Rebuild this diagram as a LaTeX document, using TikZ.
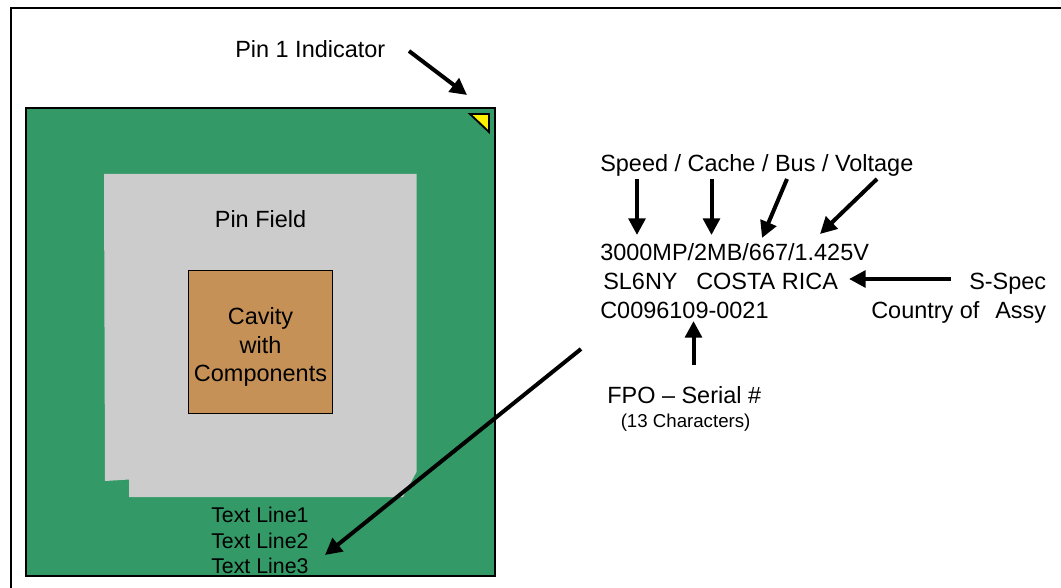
\documentclass[tikz,border=0pt]{standalone}
\usepackage{fontspec}
\setmainfont{Liberation Sans}
\usetikzlibrary{arrows.meta}
\definecolor{board}{HTML}{339966}
\definecolor{pinfield}{HTML}{CCCCCC}
\definecolor{cavity}{HTML}{C69157}
\tikzset{
  x=0.75pt,y=-0.75pt,
  lbl/.style={inner sep=0pt,anchor=base west,font=\fontsize{17.6}{18}\selectfont,text=black},
  small/.style={inner sep=0pt,anchor=base west,font=\fontsize{14}{14}\selectfont,text=black},
  board text/.style={inner sep=0pt,anchor=base west,font=\fontsize{16}{16}\selectfont,text=black},
  callout/.style={draw=black,line width=3pt,-{Triangle[length=12.5pt,width=12.5pt]}},
  frame/.style={draw=black,line width=1.5pt},
}
\begin{document}
\begin{tikzpicture}
\useasboundingbox (0,0) rectangle (1061,588);
\fill[white] (0,0) rectangle (1061,588);
\coordinate (fa) at (11,588);
\coordinate (fb) at (11,8);
\coordinate (fc) at (1061,8);
\draw[frame] (fa) -- (fb) -- (fc);
\draw[draw=black,line width=1.8pt,fill=board] (26,108) rectangle (495,576);
\fill[pinfield] (104,174) -- (416.5,174) -- (416.5,472) -- (403,497) -- (129,497) -- (129,479.5) -- (105,481) -- cycle;
\node[draw=black,line width=0.8pt,fill=cavity,minimum width=108pt,minimum height=107.3pt,inner sep=0pt,anchor=north west] (cav) at (188.3,270) {};
\fill[yellow,draw=black,line width=1.4pt] (470,114) -- (489,114) -- (489,132) -- cycle;
\node[lbl] (pin1) at (235,58) {Pin 1 Indicator};
\node[lbl,anchor=base] (pf) at (260.5,227.5) {Pin Field};
\node[lbl,anchor=base] (c1) at (260.5,324.5) {Cavity};
\node[lbl,anchor=base] (c2) at (260.5,353.5) {with};
\node[lbl,anchor=base] (c3) at (260.5,381.5) {Components};
\node[board text] (t1) at (211,522) {Text Line1};
\node[board text] (t2) at (211,548) {Text Line2};
\node[board text] (t3) at (211,573) {Text Line3};
\node[lbl] (head) at (600,172) {Speed / Cache / Bus / Voltage};
\node[lbl] (l1) at (600,261) {3000MP/2MB/667/1.425V};
\node[lbl] (l2) at (603,290) {SL6NY};
\node[lbl] (l2b) at (696,290) {COSTA RICA};
\node[lbl] (l3) at (600,318) {C0096109-0021};
\node[lbl] (ss) at (969,290) {S-Spec};
\node[lbl] (ca) at (871,318) {Country of};
\node[lbl] (as) at (995,318) {Assy};
\node[lbl] (fpo) at (607,403) {FPO – Serial \#};
\node[small] (ch) at (620.5,427) {(13 Characters)};
\coordinate (a1s) at (409,51); \coordinate (a1e) at (467,95);
\coordinate (a2s) at (637,179); \coordinate (a2e) at (637,235);
\coordinate (a3s) at (711.5,179); \coordinate (a3e) at (711.5,235);
\coordinate (a4s) at (787,179); \coordinate (a4e) at (762,238);
\coordinate (a5s) at (877,179); \coordinate (a5e) at (820,234);
\coordinate (a6s) at (951,279); \coordinate (a6e) at (849,279);
\coordinate (a7s) at (693.5,365); \coordinate (a7e) at (693.5,321);
\coordinate (a8s) at (581,349); \coordinate (a8e) at (325,555);
\draw[callout] (a1s) -- (a1e);
\draw[callout] (a2s) -- (a2e);
\draw[callout] (a3s) -- (a3e);
\draw[callout] (a4s) -- (a4e);
\draw[callout] (a5s) -- (a5e);
\draw[callout] (a6s) -- (a6e);
\draw[callout] (a7s) -- (a7e);
\draw[callout] (a8s) -- (a8e);
\end{tikzpicture}
\end{document}
